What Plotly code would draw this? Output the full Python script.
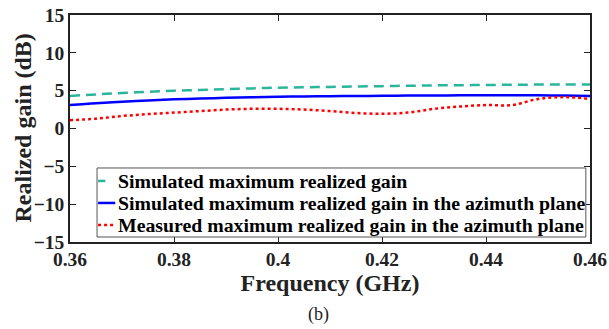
import plotly.graph_objects as go

freq = [0.36, 0.365, 0.37, 0.375, 0.38, 0.385, 0.39, 0.395, 0.40, 0.405, 0.41, 0.415, 0.42,
        0.425, 0.43, 0.435, 0.44, 0.445, 0.45, 0.455, 0.46]
sim_max = [4.3, 4.5, 4.7, 4.85, 5.0, 5.1, 5.2, 5.3, 5.4, 5.45, 5.5, 5.55, 5.6,
           5.65, 5.7, 5.72, 5.75, 5.78, 5.8, 5.8, 5.8]
sim_az = [3.1, 3.35, 3.55, 3.7, 3.85, 3.95, 4.05, 4.12, 4.2, 4.23, 4.27, 4.3, 4.32,
          4.35, 4.37, 4.38, 4.4, 4.4, 4.38, 4.35, 4.3]
meas_az = [1.1, 1.3, 1.65, 1.9, 2.1, 2.3, 2.5, 2.6, 2.6, 2.5, 2.3, 2.05, 1.95,
           2.1, 2.6, 2.9, 3.1, 3.1, 3.9, 4.15, 3.9]

names = ["Simulated maximum realized gain",
         "Simulated maximum realized gain in the azimuth plane",
         "Measured maximum realized gain in the azimuth plane"]
colors = ["#2bb59a", "#0000ff", "#ff0000"]
dashes = ["10px,6px", "solid", "dot"]
series = [sim_max, sim_az, meas_az]

font_main = "Liberation Serif"
ink = "#222222"

fig = go.Figure()
for nm, ys, c, d in zip(names, series, colors, dashes):
    fig.add_trace(go.Scatter(x=freq, y=ys, mode="lines", name=nm, showlegend=False,
                             line=dict(color=c, width=2.5, dash=d, shape="spline")))

# Compact MATLAB-style legend drawn in paper coordinates
fig.add_shape(type="rect", xref="paper", yref="paper", x0=0.052, x1=0.992, y0=0.022, y1=0.326,
              line=dict(color="#555555", width=1), fillcolor="white", layer="above")
row_y = [0.269, 0.172, 0.075]
sample_end = [0.068, 0.087, 0.087]
for nm, c, d, ry, sx in zip(names, colors, dashes, row_y, sample_end):
    fig.add_shape(type="line", xref="paper", yref="paper", x0=0.054, x1=sx, y0=ry, y1=ry,
                  line=dict(color=c, width=2.5, dash="dot" if d == "dot" else "solid"), layer="above")
    fig.add_annotation(text="<b>" + nm + "</b>", xref="paper", yref="paper", x=0.088, y=ry,
                       xanchor="left", yanchor="middle", showarrow=False,
                       font=dict(family=font_main, size=19.8, color="black"))

# y-axis title
fig.add_annotation(text="<b>Realized gain (dB)</b>", xref="paper", yref="paper", x=-0.0923, y=0.5,
                   xanchor="center", yanchor="middle", textangle=-90, showarrow=False,
                   font=dict(family=font_main, size=24, color=ink))

fig.add_annotation(text="(b)", xref="paper", yref="paper", x=0.477, y=-0.265,
                   xanchor="center", yanchor="top", showarrow=False,
                   font=dict(family=font_main, size=18, color=ink))

fig.update_layout(
    width=609, height=329,
    margin=dict(l=70, r=19, t=15, b=87),
    paper_bgcolor="white", plot_bgcolor="white",
    font=dict(family=font_main, color=ink),
    showlegend=False,
    xaxis=dict(range=[0.36, 0.46], tickvals=[0.36, 0.38, 0.40, 0.42, 0.44, 0.46],
               ticktext=["0.36", "0.38", "0.4", "0.42", "0.44", "0.46"],
               ticks="inside", ticklen=6, tickcolor=ink, mirror="ticks",
               showline=True, linecolor=ink, linewidth=1.5, showgrid=False, zeroline=False,
               ticklabelstandoff=-1, automargin=False,
               tickfont=dict(family=font_main, size=19.5, weight="bold", color=ink),
               title=dict(text="<b>Frequency (GHz)</b>",
                          font=dict(family=font_main, size=24, color=ink), standoff=0)),
    yaxis=dict(range=[-15, 15], tickvals=[-15, -10, -5, 0, 5, 10, 15],
               ticks="inside", ticklen=6, tickcolor=ink, mirror="ticks",
               showline=True, linecolor=ink, linewidth=1.5, showgrid=False, zeroline=False,
               automargin=False,
               tickfont=dict(family=font_main, size=19.5, weight="bold", color=ink)),
)

fig.write_html("out.html", config={"displayModeBar": False},
               post_script="document.body.style.margin='0';document.body.style.padding='0';")
